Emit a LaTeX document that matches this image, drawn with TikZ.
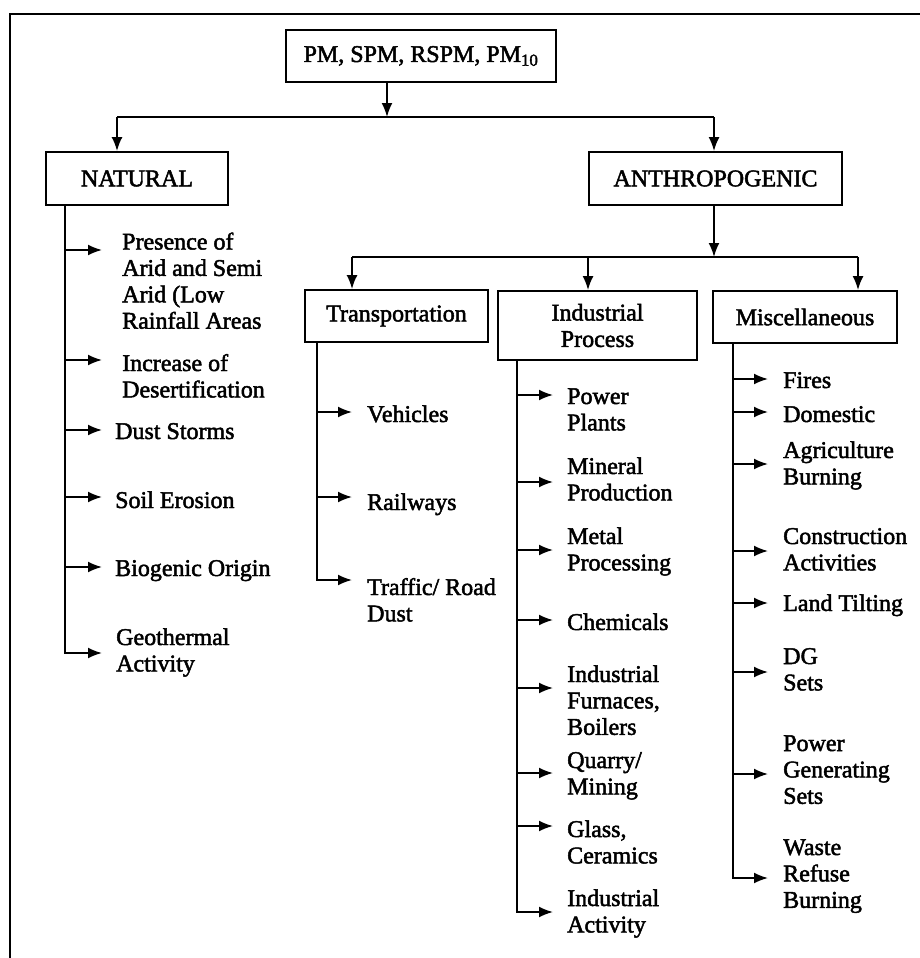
\documentclass[tikz,border=0pt]{standalone}
\usepackage{fontspec}
\setmainfont{Liberation Serif}
\newfontfamily\diagfont{Liberation Serif}[FakeBold=2]
\usetikzlibrary{arrows.meta}
\tikzset{
  box/.style={draw, line width=1.9pt, inner sep=0pt, align=center,
    font=\diagfont\fontsize{24}{26.4}\selectfont},
  item/.style={inner sep=0pt, align=left, anchor=base west,
    font=\diagfont\fontsize{24}{26.4}\selectfont},
  conn/.style={line width=1.8pt},
  arr/.style={conn, -{Latex[length=14pt,width=11pt]}},
}
\begin{document}
\begin{tikzpicture}[x=1pt,y=-1pt]
\useasboundingbox (0,0) rectangle (920,958);
\draw[line width=2.2pt] (10,958) -- (10,14) -- (920,14);

% boxes
\node[box, minimum width=270pt, minimum height=52pt] (top) at (421,56) {PM, SPM, RSPM, PM\textsubscript{10}};
\node[box, minimum width=182pt, minimum height=53pt] (nat) at (137,178.5) {NATURAL};
\node[box, minimum width=253pt, minimum height=53pt] (anth) at (715.5,178.5) {ANTHROPOGENIC};
\node[box, minimum width=183pt, minimum height=52pt] (trans) at (396.5,316) {Transportation};
\node[box, minimum width=199pt, minimum height=69pt] (ind) at (597.5,325.5) {Industrial\\Process};
\node[box, minimum width=184pt, minimum height=52pt] (misc) at (805,317) {Miscellaneous};

% top level connectors
\coordinate (j1) at (387,117);
\coordinate (hl) at (117,117);
\coordinate (hr) at (714,117);
\draw[arr] (j1 |- top.south) -- (j1);
\draw[conn] (hl) -- (hr);
\draw[arr] (hl) -- (hl |- nat.north);
\draw[arr] (hr) -- (hr |- anth.north);

\coordinate (j2) at (714,257);
\coordinate (al) at (352,257);
\coordinate (am) at (588,257);
\coordinate (ar) at (858,257);
\draw[arr] (j2 |- anth.south) -- (j2);
\draw[conn] (al) -- (ar);
\draw[arr] (al) -- (al |- trans.north);
\draw[arr] (am) -- (am |- ind.north);
\draw[arr] (ar) -- (ar |- misc.north);

% natural items (anchor = baseline of last line)
\node[item] (n1) at (122,328.7) {Presence of\\Arid and Semi\\Arid (Low\\Rainfall Areas};
\node[item] (n2) at (122,397.4) {Increase of\\Desertification};
\node[item] (n3) at (115,439) {Dust Storms};
\node[item] (n4) at (115,508) {Soil Erosion};
\node[item] (n5) at (115,576) {Biogenic Origin};
\node[item] (n6) at (116,671.4) {Geothermal\\Activity};
\coordinate (nx) at (65,0);
\draw[arr] (nx |- nat.south) -- (65,653) -- (102,653);
\draw[arr] (65,250) -- (102,250);
\draw[arr] (65,360) -- (102,360);
\draw[arr] (65,430) -- (102,430);
\draw[arr] (65,497) -- (102,497);
\draw[arr] (65,567) -- (102,567);

% transportation items
\node[item] (t1) at (367,422) {Vehicles};
\node[item] (t2) at (367,510) {Railways};
\node[item] (t3) at (367,621.4) {Traffic/ Road\\Dust};
\coordinate (tx) at (317,0);
\draw[arr] (tx |- trans.south) -- (317,580) -- (352,580);
\draw[arr] (317,412) -- (352,412);
\draw[arr] (317,497) -- (352,497);

% industrial items
\node[item] (i1) at (567,430.4) {Power\\Plants};
\node[item] (i2) at (567,500.4) {Mineral\\Production};
\node[item] (i3) at (567,570.4) {Metal\\Processing};
\node[item] (i4) at (567,630) {Chemicals};
\node[item] (i5) at (567,734.8) {Industrial\\Furnaces,\\Boilers};
\node[item] (i6) at (567,794.4) {Quarry/\\Mining};
\node[item] (i7) at (567,863.4) {Glass,\\Ceramics};
\node[item] (i8) at (567,932.4) {Industrial\\Activity};
\coordinate (ix) at (517,0);
\draw[arr] (ix |- ind.south) -- (517,912) -- (553,912);
\draw[arr] (517,395) -- (553,395);
\draw[arr] (517,482) -- (553,482);
\draw[arr] (517,550) -- (553,550);
\draw[arr] (517,620) -- (553,620);
\draw[arr] (517,688) -- (553,688);
\draw[arr] (517,773) -- (553,773);
\draw[arr] (517,826) -- (553,826);

% miscellaneous items
\node[item] (m1) at (783,388) {Fires};
\node[item] (m2) at (783,422) {Domestic};
\node[item] (m3) at (783,484.4) {Agriculture\\Burning};
\node[item] (m4) at (783,570.4) {Construction\\Activities};
\node[item] (m5) at (783,611) {Land Tilting};
\node[item] (m6) at (783,690.4) {DG\\Sets};
\node[item] (m7) at (783,803.8) {Power\\Generating\\Sets};
\node[item] (m8) at (783,907.8) {Waste\\Refuse\\Burning};
\coordinate (mx) at (733,0);
\draw[arr] (mx |- misc.south) -- (733,878) -- (768,878);
\draw[arr] (733,379) -- (768,379);
\draw[arr] (733,412) -- (768,412);
\draw[arr] (733,464) -- (768,464);
\draw[arr] (733,551) -- (768,551);
\draw[arr] (733,603) -- (768,603);
\draw[arr] (733,672) -- (768,672);
\draw[arr] (733,774) -- (768,774);
\end{tikzpicture}
\end{document}
